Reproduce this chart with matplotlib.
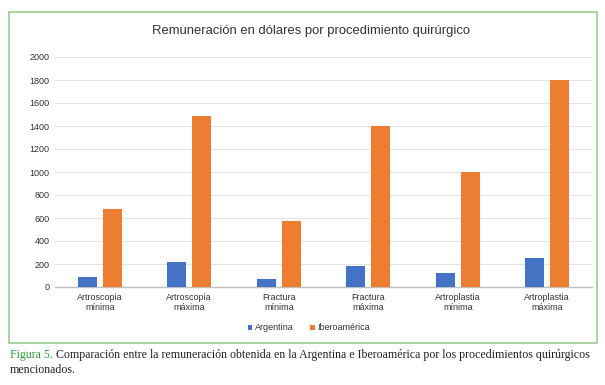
import matplotlib
matplotlib.use('Agg')
import matplotlib.pyplot as plt
import numpy as np
from matplotlib.patches import Rectangle

plt.rcParams['font.family'] = ['Liberation Sans', 'DejaVu Sans']

# ── Data ──────────────────────────────────────────────────────────
categories = ['Artroscopia\nmínima', 'Artroscopia\nmáxima', 'Fractura\nmínima',
              'Fractura\nmáxima', 'Artroplastia\nmínima', 'Artroplastia\nmáxima']
argentina = [90, 220, 70, 180, 120, 250]
iberoamerica = [680, 1490, 570, 1400, 1000, 1800]
yticks = list(range(0, 2001, 200))

C = {'arg': '#4472C4', 'ibe': '#ED7D31', 'frame': '#9CCB8F', 'fig': '#2E9A3A'}

fig = plt.figure(figsize=(6.05, 3.85), dpi=100)

# green frame around chart
fig.patches.append(Rectangle((9/605, 1-343/385), 588/605, 331/385, transform=fig.transFigure,
                             fill=False, edgecolor=C['frame'], linewidth=1.2))

ax = fig.add_axes([55/605, 1-287/385, 537/605, 230/385])
x = np.arange(len(categories))
w = 0.21
ax.bar(x - 0.14, argentina, w, color=C['arg'], label='Argentina', zorder=3)
ax.bar(x + 0.14, iberoamerica, w, color=C['ibe'], label='Iberoamérica', zorder=3)

ax.set_xlim(-0.5, len(categories) - 0.5)
ax.set_ylim(0, 2000)
ax.set_yticks(yticks)
ax.set_yticklabels([str(v) for v in yticks], fontsize=6.5, color='#333333')
ax.set_xticks(x)
ax.set_xticklabels(categories, fontsize=6.5, color='#333333', linespacing=1.2)
ax.tick_params(length=0, pad=4)
ax.grid(axis='y', color='#e4e4e4', linewidth=0.8, zorder=0)
for s in ['top', 'right', 'left']:
    ax.spines[s].set_visible(False)
ax.spines['bottom'].set_color('#bfbfbf')
ax.spines['bottom'].set_linewidth(1.0)

fig.text(311/605, 1-31/385, 'Remuneración en dólares por procedimiento quirúrgico',
         ha='center', va='center', fontsize=9.4, color='#333333')

fig.legend(loc='center', bbox_to_anchor=(309/605, 1-328/385), ncol=2, frameon=False,
           fontsize=6.5, handlelength=0.5, handleheight=0.5, handletextpad=0.3,
           columnspacing=1.8, labelcolor='#333333')

# caption
serif = ['Liberation Serif', 'DejaVu Serif']
fs = 8.6
t1 = fig.text(10/605, 1-355/385, 'Figura 5.', family=serif, fontsize=fs,
              color=C['fig'], va='center', ha='left')
t2 = fig.text(0, 1-355/385, ' Comparación entre la remuneración obtenida en la Argentina e Iberoamérica '
              'por los procedimientos quirúrgicos', family=serif, fontsize=fs,
              color='#222222', va='center', ha='left')
fig.text(10/605, 1-370/385, 'mencionados.', family=serif, fontsize=fs,
         color='#222222', va='center', ha='left')

fig.canvas.draw()
# place second part of caption right after "Figura 5."
bb = t1.get_window_extent()
t2.set_x(bb.x1 / fig.bbox.width)

fig.savefig('out.png', dpi=100)
